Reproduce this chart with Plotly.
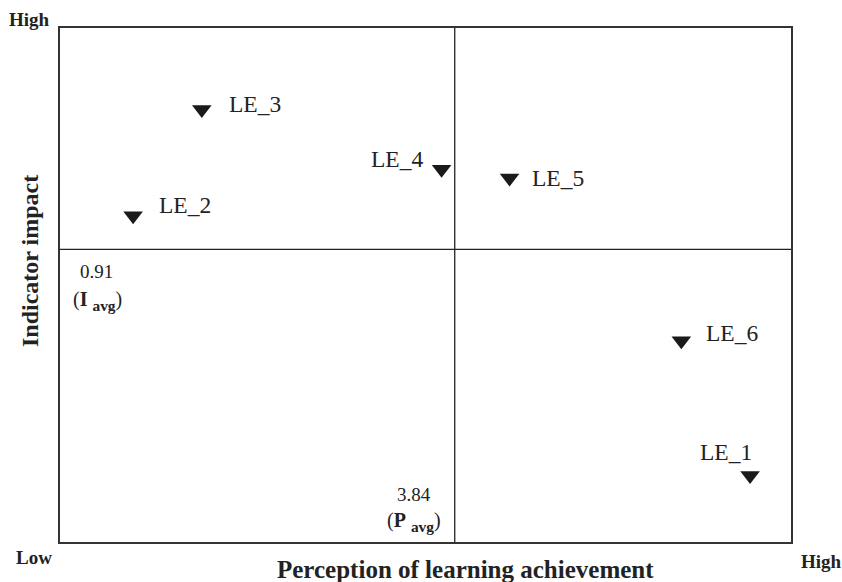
import plotly.graph_objects as go

# ---- data ----
labels = ["LE_1", "LE_2", "LE_3", "LE_4", "LE_5", "LE_6"]
perception = [4.244, 3.400, 3.494, 3.822, 3.915, 4.150]
impact = [0.593, 0.957, 1.106, 1.022, 1.010, 0.782]
P_AVG = 3.84
I_AVG = 0.91
x_range = [3.3, 4.3]
y_range = [0.5, 1.22]

# label offsets (pixels) relative to marker: (xshift, yshift, xanchor)
label_style = {
    "LE_1": (-24, 24, "center"),
    "LE_2": (24, 11, "left"),
    "LE_3": (25, 5, "left"),
    "LE_4": (-17, 10, "right"),
    "LE_5": (20, 0, "left"),
    "LE_6": (23, 8, "left"),
}

FONT = "Liberation Serif, Times New Roman, serif"
TXT = "#222"

W, H = 842, 582
ML, MR, MT, MB = 60, 51, 28, 40
pw = W - ML - MR
ph = H - MT - MB

fig = go.Figure()
fig.add_trace(go.Scatter(
    x=perception, y=impact, mode="markers",
    marker=dict(symbol="triangle-down", size=17, color="#1a1a1a"),
    hoverinfo="text", text=labels, showlegend=False,
))

for lab, xv, yv in zip(labels, perception, impact):
    dx, dy, xa = label_style[lab]
    fig.add_annotation(
        x=xv, y=yv, xref="x", yref="y", text=lab, showarrow=False,
        xshift=dx, yshift=dy, xanchor=xa, yanchor="middle",
        font=dict(family=FONT, size=23.5, color=TXT),
    )

sub_avg = "<span style='font-size:22px'><sub><b>avg</b></sub></span>"
extra = [
    dict(x=x_range[0], y=I_AVG, xref="x", yref="y", text=f"{I_AVG:.2f}",
         xanchor="center", yanchor="middle", xshift=36, yshift=-22,
         font=dict(family=FONT, size=19, color=TXT)),
    dict(x=x_range[0], y=I_AVG, xref="x", yref="y",
         text="(<b>I</b> " + sub_avg + ")",
         xanchor="center", yanchor="middle", xshift=37, yshift=-52,
         font=dict(family=FONT, size=20, color=TXT)),
    dict(x=P_AVG, y=y_range[0], xref="x", yref="y", text=f"{P_AVG:.2f}",
         xanchor="center", yanchor="middle", xshift=-41, yshift=48,
         font=dict(family=FONT, size=19, color=TXT)),
    dict(x=P_AVG, y=y_range[0], xref="x", yref="y",
         text="(<b>P</b> " + sub_avg + ")",
         xanchor="center", yanchor="middle", xshift=-41, yshift=20,
         font=dict(family=FONT, size=20, color=TXT)),
    dict(x=(465 - ML) / pw, y=0, xref="paper", yref="paper",
         text="<b>Perception of learning achievement</b>",
         xanchor="center", yanchor="top", yshift=-12,
         font=dict(family=FONT, size=25, color=TXT)),
    dict(x=(30 - ML) / pw, y=(H - MB - 261) / ph, xref="paper", yref="paper",
         text="<b>Indicator impact</b>", textangle=-90,
         xanchor="center", yanchor="middle",
         font=dict(family=FONT, size=24, color=TXT)),
    dict(x=0, y=1, xref="paper", yref="paper", text="<b>High</b>",
         xanchor="right", yanchor="bottom", xshift=-8, yshift=-4,
         font=dict(family=FONT, size=19, color=TXT)),
    dict(x=0, y=0, xref="paper", yref="paper", text="<b>Low</b>",
         xanchor="right", yanchor="top", xshift=-6, yshift=-3,
         font=dict(family=FONT, size=19, color=TXT)),
    dict(x=1, y=0, xref="paper", yref="paper", text="<b>High</b>",
         xanchor="left", yanchor="top", xshift=8, yshift=-7,
         font=dict(family=FONT, size=19, color=TXT)),
]
for a in extra:
    fig.add_annotation(showarrow=False, **a)

# quadrant lines at the averages
fig.add_shape(type="line", x0=P_AVG, x1=P_AVG, y0=0, y1=1, xref="x", yref="paper",
              line=dict(color=TXT, width=1.3))
fig.add_shape(type="line", x0=0, x1=1, y0=I_AVG, y1=I_AVG, xref="paper", yref="y",
              line=dict(color=TXT, width=1.3))

axis_style = dict(showgrid=False, zeroline=False, showticklabels=False, ticks="",
                  showline=True, mirror=True, linecolor="#333", linewidth=1.5)
fig.update_xaxes(range=x_range, **axis_style)
fig.update_yaxes(range=y_range, **axis_style)

fig.update_layout(
    width=W, height=H,
    margin=dict(l=ML, r=MR, t=MT, b=MB),
    paper_bgcolor="white", plot_bgcolor="white",
    font=dict(family=FONT, color=TXT),
    showlegend=False,
)

fig.write_html("out.html",
               config={"displayModeBar": False},
               post_script="document.body.style.margin='0';document.body.style.overflow='hidden';")
